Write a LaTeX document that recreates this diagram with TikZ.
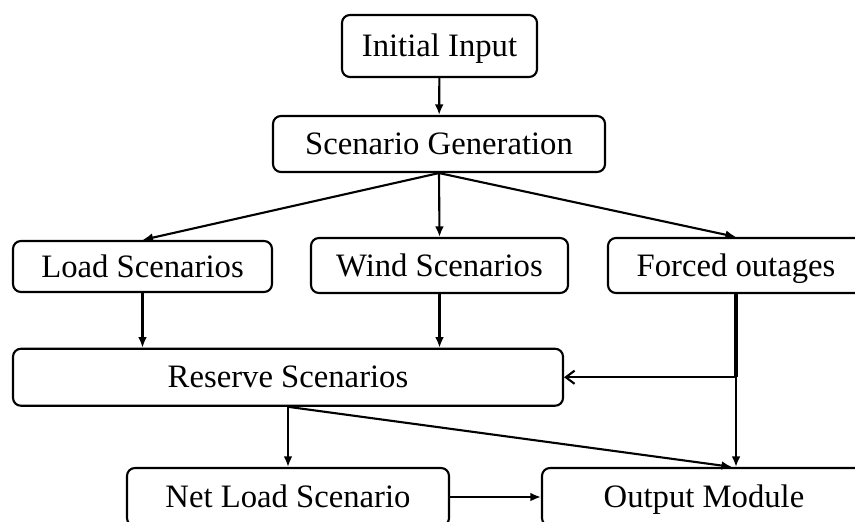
\documentclass[tikz,border=0pt]{standalone}
\usepackage{fontspec}
\setmainfont{Liberation Serif}
\usetikzlibrary{arrows.meta}

\begin{document}
\begin{tikzpicture}[line join=round, line cap=round,
  box/.style={draw=black, line width=1.2pt, rounded corners=4.5pt, fill=white,
              inner sep=0pt, text height=12.2pt, text depth=0pt,
              font=\fontsize{18.6}{21}\selectfont},
  arr/.style={line width=1.2pt, -{Latex[length=6pt,width=5pt]}},
  barb/.style={line width=1.2pt, -{Straight Barb[length=5pt,width=7.5pt]}}]
  \useasboundingbox (0,0) rectangle (17.1,10.42);

  % ========================================================
  % 1. BOXES
  % ========================================================
  \node[box, minimum width=3.9cm, minimum height=1.24cm] (input) at (8.79,9.50) {Initial Input};
  \node[box, minimum width=6.64cm, minimum height=1.12cm] (scengen) at (8.78,7.54) {Scenario Generation};

  \node[box, minimum width=5.18cm, minimum height=1.02cm] (load) at (2.85,5.09) {Load Scenarios};
  \node[box, minimum width=5.14cm, minimum height=1.10cm] (wind) at (8.79,5.11) {Wind Scenarios};
  \node[box, minimum width=5.12cm, minimum height=1.10cm] (forced) at (14.72,5.11) {Forced outages};

  \node[box, minimum width=11.0cm, minimum height=1.14cm] (reserve) at (5.76,2.875) {Reserve Scenarios};

  \node[box, minimum width=6.44cm, minimum height=1.16cm] (netload) at (5.76,0.48) {Net Load Scenario};
  \node[box, minimum width=6.48cm, minimum height=1.16cm] (output) at (14.08,0.48) {Output Module};

  % helper points on the forced-outage rail
  \coordinate (rail) at (forced.south |- reserve.east);
  \coordinate (outtop) at (forced.south |- output.north);

  % ========================================================
  % 2. CONNECTORS
  % ========================================================
  \draw[arr] (input) -- (scengen);
  \draw[arr] (scengen.south) -- (load.north);
  \draw[arr] (scengen.south) -- (wind.north);
  \draw[arr] (scengen.south) -- (forced.north);

  \draw[arr] (load.south) -- (load.south |- reserve.north);
  \draw[arr] (wind.south) -- (wind.south |- reserve.north);
  \draw[line width=2pt, line cap=butt] (forced.south) -- (rail);
  \draw[barb] (rail) -- (reserve.east);
  \draw[arr] (forced.south) -- (outtop);

  \draw[arr] (reserve.south) -- (netload.north);
  \draw[arr] (reserve.south) -- ([xshift=-0.08cm]outtop);
  \draw[arr] (netload.east) -- (output.west);

\end{tikzpicture}
\end{document}
